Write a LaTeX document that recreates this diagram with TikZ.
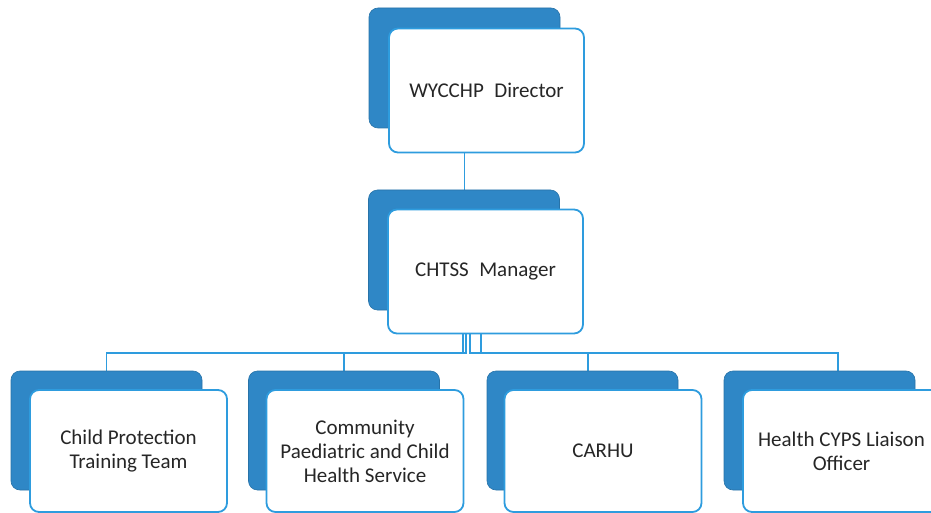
\documentclass[tikz,border=0pt]{standalone}
\usepackage{fontspec}
\setmainfont{Carlito}
\usepackage{xcolor}
\usepackage{tikz}
\usetikzlibrary{positioning}
\usetikzlibrary{backgrounds}
\definecolor{boxblue}{HTML}{2F87C6}
\definecolor{linecolor}{HTML}{2E9CDE}

\tikzset{
  backbox/.style={rectangle,rounded corners=9pt,fill=boxblue,draw=boxblue!85!black,
    line width=0.6pt,minimum width=191pt,minimum height=120pt,inner sep=0pt},
  frontbox/.style={rectangle,rounded corners=9pt,fill=white,draw=linecolor,
    line width=1.8pt,minimum width=195pt,minimum height=124pt,inner sep=2pt,
    align=center,text=black!85,font=\fontsize{21}{24}\selectfont},
  link/.style={linecolor,line width=1.6pt}
}

\begin{document}
\begin{tikzpicture}[x=1pt,y=-1pt]
\useasboundingbox (0,0) rectangle (931,513);
% top of the chart
\node[backbox] (dirback) at (464.5,68) {};
\node[frontbox] (dir) at (486.5,90.5) {WYCCHP\hspace{0.5em}Director};
\node[backbox] (mgrback) at (464,250) {};
\node[frontbox] (mgr) at (485.5,271.5) {CHTSS\hspace{0.5em}Manager};
% the four teams
\foreach \bx/\fx/\name/\txt in {106.5/128.5/cptt/{Child Protection\\Training Team},
    344/365/cpchs/{Community\\Paediatric and Child\\Health Service},
    582.5/603/carhu/CARHU,
    819.5/841.5/liaison/{Health CYPS Liaison\\Officer}}
{
  \node[backbox,minimum height=119pt] (\name back) at (\bx,430.5) {};
  \node[frontbox,minimum width=197pt,minimum height=122pt] (\name) at (\fx,451) {\txt};
}
\coordinate (bus) at (0,353);
\begin{scope}[on background layer]
  \draw[link] (dirback.south) -- (dirback.south |- mgrback.north);
  \foreach \o/\s/\name in {-1/0/cptt, 2/0/cpchs, 6/5.5/carhu, 17/18.5/liaison}
    \draw[link] ([xshift=\o pt]mgrback.south) -- ([xshift=\o pt]mgrback.south |- bus)
      -| ([xshift=\s pt]\name back.north);
\end{scope}
\end{tikzpicture}
\end{document}
